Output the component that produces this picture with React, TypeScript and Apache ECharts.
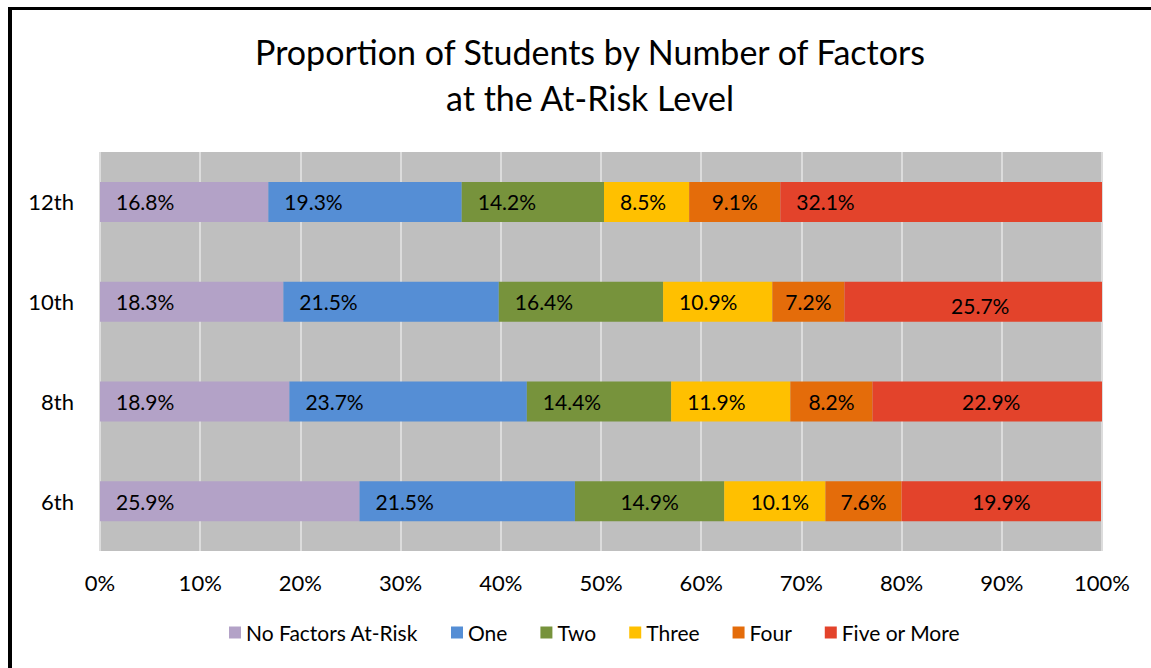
import React, { useEffect, useRef } from "react";
import * as echarts from "echarts";

const grades = ["6th", "8th", "10th", "12th"];
const seriesNames = ["No Factors At-Risk", "One", "Two", "Three", "Four", "Five or More"];
const noFactors = [25.9, 18.9, 18.3, 16.8];
const one = [21.5, 23.7, 21.5, 19.3];
const two = [14.9, 14.4, 16.4, 14.2];
const three = [10.1, 11.9, 10.9, 8.5];
const four = [7.6, 8.2, 7.2, 9.1];
const fiveOrMore = [19.9, 22.9, 25.7, 32.1];
const xTicks = [0, 10, 20, 30, 40, 50, 60, 70, 80, 90, 100];

const values = [noFactors, one, two, three, four, fiveOrMore];
const colors = ["#b3a2c7", "#558ed5", "#77933c", "#ffc000", "#e46c0a", "#e3432b"];

// label placement (style only): centered labels with an offset, others inside-left
const centered: Record<string, number[]> = {
  "Four|12th": [0, 0],
  "Four|10th": [0, 0],
  "Five or More|10th": [7, 4],
  "Four|8th": [0, 0],
  "Five or More|8th": [4, 0],
  "Two|6th": [0, 0],
  "Three|6th": [5, 0],
  "Four|6th": [0, 0],
  "Five or More|6th": [0, 0],
};

const FONT = "Lato, 'Open Sans', sans-serif";

export default function App() {
  const ref = useRef<HTMLDivElement>(null);
  useEffect(() => {
    document.body.style.margin = "0";
    if (!ref.current) return;
    const chart = echarts.init(ref.current, undefined, { renderer: "svg" });
    const series = seriesNames.map((name, si) => ({
      name,
      type: "bar",
      stack: "total",
      barWidth: 40,
      itemStyle: { color: colors[si] },
      data: values[si].map((v, gi) => {
        const key = name + "|" + grades[gi];
        const c = centered[key];
        return {
          value: v,
          label: c
            ? { position: "inside", offset: c }
            : { position: "insideLeft", distance: 16 },
        };
      }),
      label: {
        show: true,
        color: "#000",
        fontSize: 21,
        fontFamily: FONT,
        formatter: (p: any) => Number(p.value).toFixed(1) + "%",
      },
    }));
    chart.setOption({
      animation: false,
      backgroundColor: "#ffffff",
      title: {
        text: "Proportion of Students by Number of Factors\nat the At-Risk Level",
        left: 585,
        top: 23,
        textAlign: "center",
        textStyle: {
          fontSize: 34,
          lineHeight: 46,
          fontWeight: "normal",
          color: "#000",
          fontFamily: FONT,
        },
      },
      legend: {
        data: seriesNames,
        bottom: 20,
        left: 224,
        itemWidth: 12,
        itemHeight: 12,
        itemGap: 33,
        icon: "rect",
        textStyle: { fontSize: 21, color: "#000", fontFamily: FONT },
      },
      grid: {
        left: 100,
        right: 49,
        top: 152,
        bottom: 117,
        show: true,
        backgroundColor: "#bfbfbf",
        borderWidth: 0,
      },
      xAxis: {
        type: "value",
        min: xTicks[0],
        max: xTicks[xTicks.length - 1],
        interval: 10,
        axisLine: { show: false },
        axisTick: { show: false },
        splitLine: { show: true, lineStyle: { color: "#dcdcdc", width: 2 } },
        axisLabel: {
          formatter: (v: number) => v + "%",
          fontSize: 22,
          color: "#000",
          fontFamily: FONT,
          margin: 20,
        },
      },
      yAxis: {
        type: "category",
        data: grades,
        axisLine: { show: false },
        axisTick: { show: false },
        axisLabel: { fontSize: 22, color: "#000", fontFamily: FONT, margin: 26 },
      },
      graphic: [
        {
          type: "line",
          shape: { x1: 10, y1: 7, x2: 10, y2: 668 },
          style: { stroke: "#000", lineWidth: 4 },
        },
        {
          type: "line",
          shape: { x1: 8, y1: 8.5, x2: 1151, y2: 8.5 },
          style: { stroke: "#000", lineWidth: 3 },
        },
      ],
      series,
    });
    return () => chart.dispose();
  }, []);
  return <div ref={ref} style={{ width: 1151, height: 668 }} />;
}
